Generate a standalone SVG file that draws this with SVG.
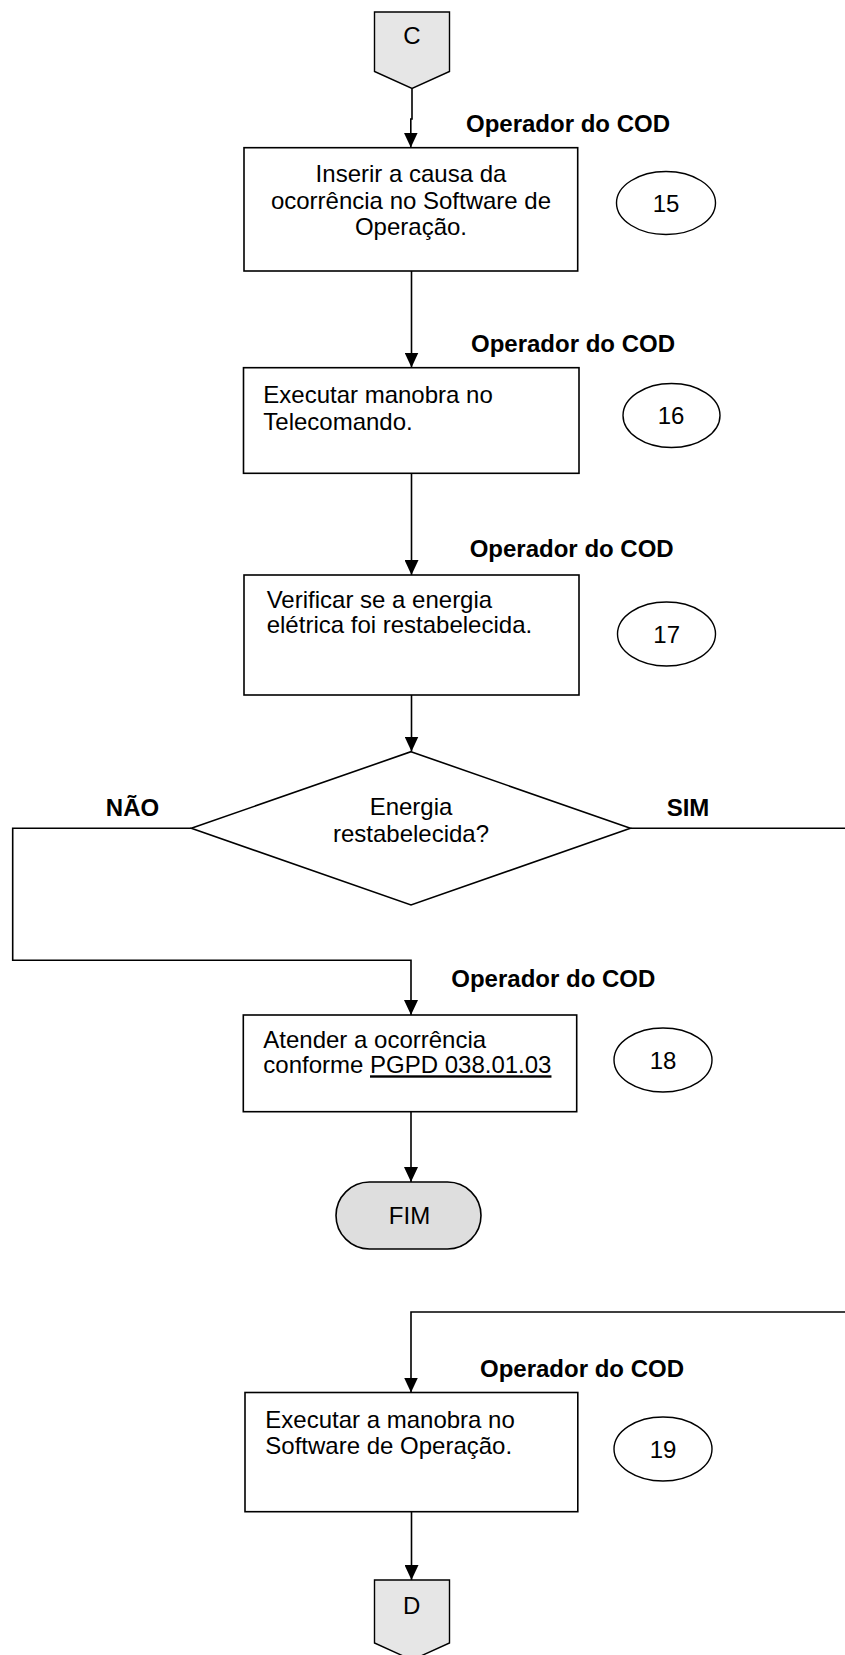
<svg xmlns="http://www.w3.org/2000/svg" width="845" height="1655" viewBox="0 0 845 1655">
<defs>
<style>
.bg{fill:#ffffff}
.box{fill:#ffffff;stroke:#000;stroke-width:1.6}
.ell{fill:#ffffff;stroke:#000;stroke-width:1.4}
.conn{fill:none;stroke:#000;stroke-width:1.6}
.grey{fill:#e6e6e6;stroke:#000;stroke-width:1.4}
.fim{fill:#dedede;stroke:#000;stroke-width:1.6}
.t{font-family:"Liberation Sans",Arial,sans-serif;font-size:24px;fill:#000}
.b{font-family:"Liberation Sans",Arial,sans-serif;font-size:24px;font-weight:bold;fill:#000}
.m{text-anchor:middle}
</style>
<marker id="arr" markerUnits="userSpaceOnUse" markerWidth="15" markerHeight="14" refX="15" refY="7" orient="auto">
<path d="M0,0 L15,7 L0,14 z" fill="#000"/>
</marker>
</defs>
<rect class="bg" x="0" y="0" width="845" height="1655"/>

<g id="connectors">
<path class="conn" d="M412,88.5 V119 H410.8 V147.5" marker-end="url(#arr)"/>
<path class="conn" d="M411.5,271 V367.5" marker-end="url(#arr)"/>
<path class="conn" d="M411.5,473.3 V575" marker-end="url(#arr)"/>
<path class="conn" d="M411.5,695 V751.5" marker-end="url(#arr)"/>
<path class="conn" d="M191.3,828.3 H12.7 V960.3 H411 V1015" marker-end="url(#arr)"/>
<path class="conn" d="M630.4,828.3 H845"/>
<path class="conn" d="M411,1111.7 V1182" marker-end="url(#arr)"/>
<path class="conn" d="M845,1312 H411 V1392.5" marker-end="url(#arr)"/>
<path class="conn" d="M411.5,1511.7 V1580" marker-end="url(#arr)"/>
<text class="b m" x="132.5" y="815.7">NÃO</text>
<text class="b m" x="688" y="815.7">SIM</text>
</g>

<g id="nodeC">
<polygon class="grey" points="374.5,12 449.5,12 449.5,71.5 412,88.5 374.5,71.5"/>
<text class="t m" x="412" y="44">C</text>
</g>

<g id="step15">
<text class="b m" x="568" y="131.7">Operador do COD</text>
<rect class="box" x="244" y="147.7" width="333.7" height="123.3"/>
<text class="t m" x="411" y="182">Inserir a causa da</text>
<text class="t m" x="411" y="208.5">ocorrência no Software de</text>
<text class="t m" x="411" y="235">Operação.</text>
<ellipse class="ell" cx="666" cy="203" rx="49.5" ry="31.5"/>
<text class="t m" x="666" y="211.7">15</text>
</g>

<g id="step16">
<text class="b m" x="573" y="351.7">Operador do COD</text>
<rect class="box" x="243.5" y="367.7" width="335.5" height="105.6"/>
<text class="t" x="263.3" y="403.3">Executar manobra no</text>
<text class="t" x="263.3" y="430">Telecomando.</text>
<ellipse class="ell" cx="671.5" cy="415.5" rx="48.5" ry="32"/>
<text class="t m" x="671" y="424">16</text>
</g>

<g id="step17">
<text class="b m" x="571.7" y="556.7">Operador do COD</text>
<rect class="box" x="244" y="575" width="335" height="120"/>
<text class="t" x="266.7" y="608">Verificar se a energia</text>
<text class="t" x="266.7" y="633">elétrica foi restabelecida.</text>
<ellipse class="ell" cx="666.5" cy="634" rx="49" ry="32"/>
<text class="t m" x="666.7" y="642.5">17</text>
</g>

<g id="decision">
<polygon class="box" points="411,751.7 630.4,828.3 411,905 191.3,828.3"/>
<text class="t m" x="411" y="815">Energia</text>
<text class="t m" x="411" y="841.5">restabelecida?</text>
</g>

<g id="step18">
<text class="b m" x="553.3" y="986.7">Operador do COD</text>
<rect class="box" x="243.3" y="1015" width="333.4" height="96.7"/>
<text class="t" x="263.3" y="1048.3">Atender a ocorrência</text>
<text class="t" x="263.3" y="1073.3">conforme <tspan text-decoration="underline">PGPD 038.01.03</tspan></text>
<ellipse class="ell" cx="663" cy="1060" rx="49" ry="32"/>
<text class="t m" x="663" y="1068.5">18</text>
</g>

<g id="fim">
<rect class="fim" x="336" y="1182" width="145" height="67" rx="33.5" ry="33.5"/>
<text class="t m" x="409.5" y="1224">FIM</text>
</g>

<g id="step19">
<text class="b m" x="582" y="1376.7">Operador do COD</text>
<rect class="box" x="245" y="1392.5" width="332.8" height="119.2"/>
<text class="t" x="265.3" y="1428">Executar a manobra no</text>
<text class="t" x="265.3" y="1454">Software de Operação.</text>
<ellipse class="ell" cx="663" cy="1449" rx="49" ry="32"/>
<text class="t m" x="663" y="1457.5">19</text>
</g>

<g id="nodeD">
<polygon class="grey" points="374.5,1580 449.5,1580 449.5,1643 412,1660 374.5,1643"/>
<text class="t m" x="411.7" y="1614">D</text>
</g>
</svg>
